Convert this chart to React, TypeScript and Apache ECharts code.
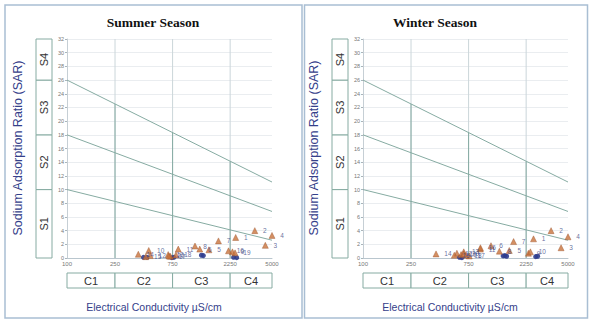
import React, { useEffect, useRef } from "react";
import * as echarts from "echarts";

// ---- axis / diagram definitions ----
const xTicks = [100, 250, 750, 2250, 5000];
const ecMin = 100;
const ecMax = 5000;
const sarMax = 32;
const salinityLabels = ["C1", "C2", "C3", "C4"];
const sodiumLabels = ["S1", "S2", "S3", "S4"];
const sodiumBounds = [0, 10, 18, 26, 32];
const boundaryStartSAR = [10, 18, 26]; // at EC = 100
const boundaryEndSAR = [2.6, 6.8, 11.1]; // at EC = 5000
const dividerEC = [250, 750, 2250];
const dividerTopSAR = [22.5, 18.3, 14.1];

const panelTitles = ["Summer Season", "Winter Season"];
const sampleIds = ["1", "2", "3", "4", "5", "6", "7", "8", "9", "10", "11", "12", "13", "14", "15", "16", "17", "18", "19", "20"];

// ---- Summer data ----
const summerEC = [2500, 3600, 4400, 5000, 1500, 1260, 1800, 1150, 2350, 476, 836, 490, 690, 390, 450, 2180, 720, 800, 2470, 700];
const summerSAR = [3.0, 4.0, 1.85, 3.3, 1.2, 1.3, 2.5, 1.75, 0.9, 1.1, 1.3, 0.35, 0.5, 0.55, 0.2, 1.05, 0.25, 0.45, 0.75, 0.3];
const summerBlueEC = [430, 460, 740, 770, 1300, 1350, 2400, 2550];
const summerBlueSAR = [0.1, 0.1, 0.05, 0.1, 0.4, 0.35, 0.1, 0.05];

// ---- Winter data ----
const winterEC = [2590, 3620, 4380, 5000, 1630, 1150, 1770, 1350, 2350, 2440, 940, 600, 684, 403, 571, 940, 760, 715, 650, 684];
const winterSAR = [2.8, 4.0, 1.5, 3.1, 1.1, 1.8, 2.4, 1.0, 0.7, 0.9, 1.3, 0.7, 0.9, 0.6, 0.4, 1.5, 0.3, 0.4, 0.5, 0.6];
const winterBlueEC = [630, 660, 1450, 1500, 1550, 2700, 2800];
const winterBlueSAR = [0.1, 0.05, 0.3, 0.35, 0.25, 0.2, 0.25];

const panelEC = [summerEC, winterEC];
const panelSAR = [summerSAR, winterSAR];
const panelBlueEC = [summerBlueEC, winterBlueEC];
const panelBlueSAR = [summerBlueSAR, winterBlueSAR];

const TEAL = "#86ABA2";
const NAVY = "#34408A";

export default function App() {
  const ref = useRef<HTMLDivElement>(null);

  useEffect(() => {
    if (!ref.current) return;
    const chart = echarts.init(ref.current, undefined, { renderer: "svg" });

    const grids = [
      { left: 67, top: 39, width: 205, height: 219 },
      { left: 363, top: 39, width: 205, height: 219 },
    ];

    const xAxes: any[] = [];
    const yAxes: any[] = [];
    const series: any[] = [];

    for (let i = 0; i < 2; i++) {
      xAxes.push({
        type: "log",
        logBase: 10,
        gridIndex: i,
        min: ecMin,
        max: ecMax,
        axisLine: { show: true, lineStyle: { color: "#B9C6CE", width: 1 } },
        axisTick: { show: false },
        splitLine: { show: false },
        axisLabel: {
          customValues: xTicks,
          fontSize: 6,
          color: "#777",
          margin: 3,
          fontFamily: "Liberation Sans",
          formatter: (v: number) => String(Math.round(v)),
        },
      });
      yAxes.push({
        type: "value",
        gridIndex: i,
        min: 0,
        max: sarMax,
        interval: 2,
        axisLine: { show: true, lineStyle: { color: "#C6CFD5", width: 1 } },
        axisTick: { show: true, length: 2, lineStyle: { color: "#AAB4BA" } },
        axisLabel: { fontSize: 5.5, color: "#777", margin: 3, fontFamily: "Liberation Sans" },
        splitLine: { show: true, lineStyle: { color: "#E4E9EC", width: 0.8 } },
      });

      // full-height light dividers
      dividerEC.forEach((ec) => {
        series.push({
          type: "line",
          xAxisIndex: i,
          yAxisIndex: i,
          data: [[ec, 0], [ec, sarMax]],
          symbol: "none",
          silent: true,
          lineStyle: { color: "#CBD6DA", width: 1 },
        });
      });
      // teal dividers up to the top boundary
      dividerEC.forEach((ec, k) => {
        series.push({
          type: "line",
          xAxisIndex: i,
          yAxisIndex: i,
          data: [[ec, 0], [ec, dividerTopSAR[k]]],
          symbol: "none",
          silent: true,
          lineStyle: { color: TEAL, width: 1 },
        });
      });
      // sloped SAR boundaries
      boundaryStartSAR.forEach((s, k) => {
        series.push({
          type: "line",
          xAxisIndex: i,
          yAxisIndex: i,
          data: [[ecMin, s], [ecMax, boundaryEndSAR[k]]],
          symbol: "none",
          silent: true,
          lineStyle: { color: TEAL, width: 1 },
        });
      });
      // blue circles
      series.push({
        type: "scatter",
        xAxisIndex: i,
        yAxisIndex: i,
        symbol: "circle",
        symbolSize: 5,
        itemStyle: { color: "#2E3C8E", opacity: 0.9 },
        data: panelBlueEC[i].map((e, k) => [e, panelBlueSAR[i][k]]),
        z: 3,
      });
      // orange triangles with sample labels
      series.push({
        type: "scatter",
        xAxisIndex: i,
        yAxisIndex: i,
        symbol: "triangle",
        symbolSize: 6,
        itemStyle: { color: "#C8733C", borderColor: "#9A5028", borderWidth: 0.5 },
        label: {
          show: true,
          position: "right",
          offset: [-2, 3],
          fontSize: 6.5,
          color: "#3E4A86",
          fontFamily: "Liberation Sans",
          formatter: (p: any) => p.data[2],
        },
        labelLayout: { hideOverlap: false },
        data: panelEC[i].map((e, k) => [e, panelSAR[i][k], sampleIds[k]]),
        z: 4,
      });
    }

    chart.setOption({
      animation: false,
      backgroundColor: "#FFFFFF",
      grid: grids,
      xAxis: xAxes,
      yAxis: yAxes,
      series,
    });

    // decorations computed from the axes
    const graphics: any[] = [];
    const frames = [
      { x: 5, y: 5, w: 297, h: 313 },
      { x: 304.5, y: 5, w: 283, h: 313 },
    ];
    const titleX = [153, 435];
    const xTitleX = [154, 450];
    const yTitleX = [18, 314];

    for (let i = 0; i < 2; i++) {
      const px = (v: number) => chart.convertToPixel({ xAxisIndex: i }, v) as number;
      const py = (v: number) => chart.convertToPixel({ yAxisIndex: i }, v) as number;
      const f = frames[i];
      graphics.push({
        type: "rect",
        shape: { x: f.x, y: f.y, width: f.w, height: f.h },
        style: { fill: "none", stroke: "#A9BED3", lineWidth: 1.5 },
        silent: true,
      });
      graphics.push({
        type: "text",
        x: titleX[i],
        y: 22,
        style: {
          text: panelTitles[i],
          font: "bold 13.5px 'Liberation Serif'",
          fill: "#111",
          align: "center",
          verticalAlign: "middle",
        },
      });
      graphics.push({
        type: "text",
        x: yTitleX[i],
        y: 148,
        rotation: Math.PI / 2,
        style: {
          text: "Sodium Adsorption Ratio (SAR)",
          font: "12.5px 'Liberation Sans'",
          fill: NAVY,
          align: "center",
          verticalAlign: "middle",
        },
      });
      graphics.push({
        type: "text",
        x: xTitleX[i],
        y: 307,
        style: {
          text: "Electrical Conductivity µS/cm",
          font: "10.5px 'Liberation Sans'",
          fill: NAVY,
          align: "center",
          verticalAlign: "middle",
        },
      });

      // S boxes
      const left = px(ecMin);
      const bx = left - 31;
      for (let k = 0; k < sodiumLabels.length; k++) {
        const yTop = py(sodiumBounds[k + 1]);
        const yBot = py(sodiumBounds[k]);
        graphics.push({
          type: "rect",
          shape: { x: bx, y: yTop, width: 16, height: yBot - yTop },
          style: { fill: "#fff", stroke: TEAL, lineWidth: 1 },
          silent: true,
        });
        graphics.push({
          type: "text",
          x: bx + 8,
          y: (yTop + yBot) / 2,
          rotation: Math.PI / 2,
          style: {
            text: sodiumLabels[k],
            font: "11px 'Liberation Sans'",
            fill: "#333",
            align: "center",
            verticalAlign: "middle",
          },
        });
      }
      // C boxes
      const bottom = py(0);
      const cy = bottom + 15;
      const cBounds = [ecMin, ...dividerEC, ecMax];
      for (let k = 0; k < salinityLabels.length; k++) {
        const x0 = px(cBounds[k]);
        const x1 = px(cBounds[k + 1]);
        graphics.push({
          type: "rect",
          shape: { x: x0, y: cy, width: x1 - x0, height: 15 },
          style: { fill: "#fff", stroke: TEAL, lineWidth: 1 },
          silent: true,
        });
        graphics.push({
          type: "text",
          x: (x0 + x1) / 2,
          y: cy + 7.5,
          style: {
            text: salinityLabels[k],
            font: "11px 'Liberation Sans'",
            fill: "#333",
            align: "center",
            verticalAlign: "middle",
          },
        });
      }
    }

    chart.setOption({ graphic: graphics });

    return () => chart.dispose();
  }, []);

  return (
    <div
      ref={ref}
      style={{ position: "fixed", left: 0, top: 0, width: 592, height: 320, background: "#fff" }}
    />
  );
}
